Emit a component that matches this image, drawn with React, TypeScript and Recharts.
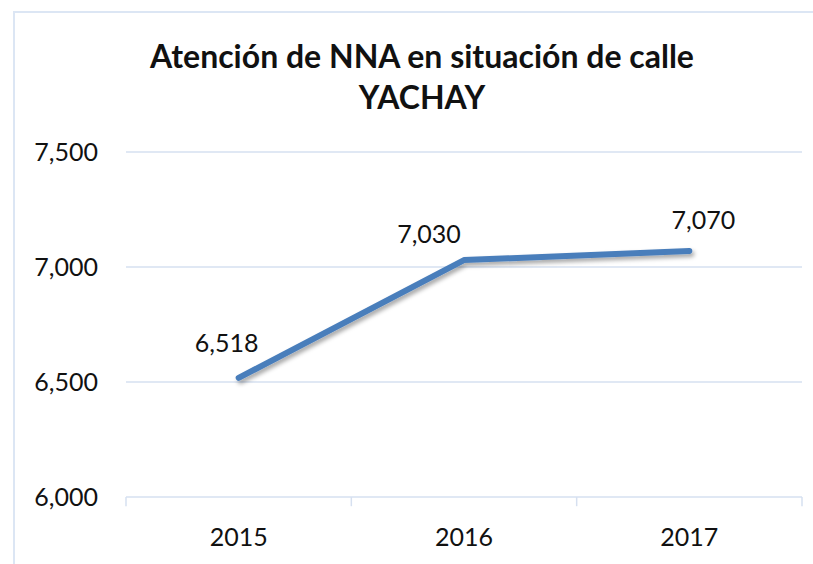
import { LineChart, Line, XAxis, YAxis, CartesianGrid, LabelList, ReferenceLine } from 'recharts';

const years = ['2015', '2016', '2017'];
const atendidos = [6518, 7030, 7070];
const yTicks = [6000, 6500, 7000, 7500];
const boundaries = [-0.5, 0.5, 1.5, 2.5];

// label offsets (Excel put them a bit off-centre)
const labelDx = [-12, -35, 14];
const labelDy = [-36, -27, -32];

const data = years.map((y, i) => ({ i, year: y, value: atendidos[i] }));

const GRID = '#D6E0F0';
const FONT = 'Lato, "Open Sans", sans-serif';

const fmt = (v: number) => v.toLocaleString('en-US');

const ValueLabel = (props: any) => {
  const { x, y, value, index } = props;
  return (
    <text
      x={x + labelDx[index]}
      y={y + labelDy[index]}
      textAnchor="middle"
      dominantBaseline="central"
      fontSize={25}
      fontFamily={FONT}
      fill="#111"
    >
      {fmt(value)}
    </text>
  );
};

export default function App() {
  return (
    <div style={{ position: 'absolute', left: 0, top: 0, width: 813, height: 564, overflow: 'hidden', background: '#fff' }}>
      <div
        style={{
          position: 'absolute', left: 13, top: 11, width: 900, height: 700,
          border: `2px solid ${'#DCE6F4'}`, boxSizing: 'border-box',
        }}
      />
      <div
        style={{
          position: 'absolute', left: 0, top: 35, width: 844, textAlign: 'center',
          fontFamily: FONT, fontWeight: 700, fontSize: 32, lineHeight: '41px', color: '#111',
        }}
      >
        Atención de NNA en situación de calle
        <br />
        YACHAY
      </div>
      <LineChart
        width={813}
        height={564}
        data={data}
        margin={{ top: 152, right: 11, bottom: 0, left: 0 }}
        style={{ position: 'absolute', left: 0, top: 0 }}
      >
        <defs>
          <filter id="shadow" x="-10%" y="-10%" width="120%" height="140%">
            <feDropShadow dx="2" dy="3" stdDeviation="2" floodColor="#000" floodOpacity="0.35" />
          </filter>
        </defs>
        <CartesianGrid vertical={false} stroke={GRID} strokeWidth={1.5} />
        <XAxis
          type="number"
          dataKey="i"
          domain={[-0.5, 2.5]}
          ticks={[0, 1, 2]}
          tickFormatter={(v: number) => years[v]}
          axisLine={false}
          tickLine={false}
          tickSize={8}
          tickMargin={23}
          height={67}
          tick={{ fontSize: 25, fontFamily: FONT, fill: '#111' }}
        />
        <YAxis
          domain={[6000, 7500]}
          ticks={yTicks}
          tickFormatter={fmt}
          axisLine={false}
          tickLine={false}
          tickSize={0}
          tickMargin={28}
          width={126}
          allowDataOverflow
          tick={{ fontSize: 25, fontFamily: FONT, fill: '#111' }}
        />
        {boundaries.map((b) => (
          <ReferenceLine
            key={b}
            segment={[{ x: b, y: 6000 }, { x: b, y: 5960 }]}
            stroke={GRID}
            strokeWidth={1.5}
            ifOverflow="visible"
          />
        ))}
        <Line
          dataKey="value"
          stroke="#4A7EBB"
          strokeWidth={6}
          strokeLinecap="round"
          strokeLinejoin="round"
          dot={false}
          filter="url(#shadow)"
          isAnimationActive={false}
        >
          <LabelList dataKey="value" content={<ValueLabel />} />
        </Line>
      </LineChart>
    </div>
  );
}
